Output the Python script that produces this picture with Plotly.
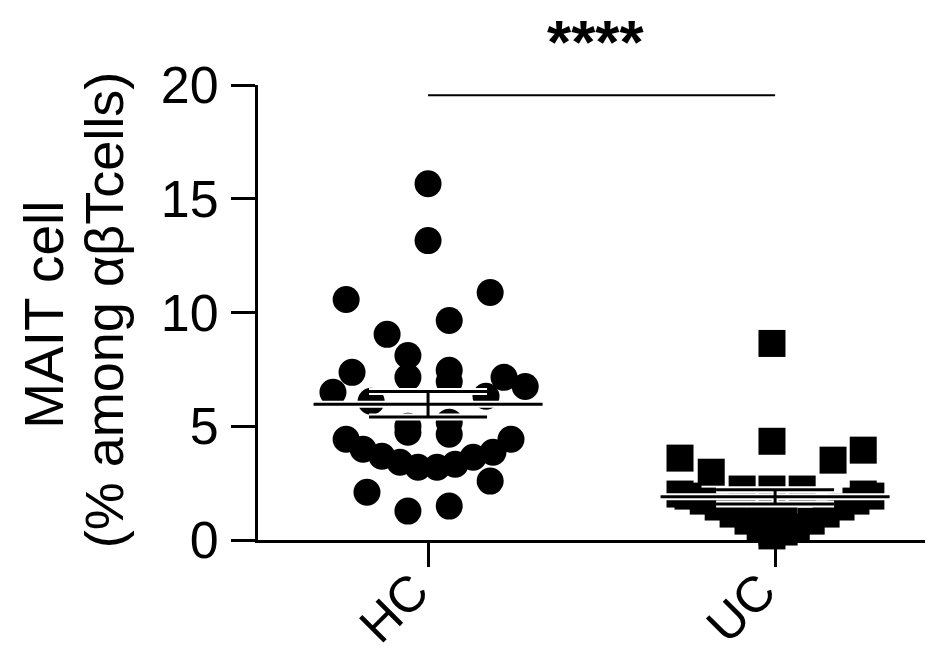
import numpy as np
import plotly.graph_objects as go

categories = ["HC", "UC"]
cat_pos = [1, 2]

hc_values = [15.66, 13.16, 10.57, 10.88, 9.65, 9.04, 8.11, 7.37, 7.46, 7.15, 6.97, 7.15,
             6.75, 6.49, 6.10, 6.32, 5.00, 5.18, 4.65, 4.74, 4.43, 3.99, 3.68, 3.42,
             3.20, 3.20, 3.33, 3.64, 3.86, 4.43, 2.59, 2.10, 1.27, 1.49]
hc_offsets = [0.00, 0.00, -0.236, 0.179, 0.061, -0.118, -0.058, -0.219, 0.061, -0.058, 0.061, 0.219,
              0.280, -0.274, -0.164, 0.167, -0.058, 0.061, 0.061, -0.058, -0.236, -0.187, -0.133, -0.081,
              -0.029, 0.026, 0.078, 0.130, 0.187, 0.239, 0.179, -0.176, -0.058, 0.061]

uc_values = [8.64, 4.34, 3.60, 2.98, 3.51, 3.95, 2.24, 2.24, 2.24, 2.02, 2.02,
             1.93, 1.71, 1.45, 1.14, 0.83, 0.57, 0.35, 0.18,
             0.35, 0.57, 0.83, 1.14, 1.45, 1.71, 1.93, 0.90, 0.70, 0.90, 0.45]
uc_offsets = [-0.009, -0.009, -0.274, -0.184, 0.167, 0.254, -0.095, -0.009, 0.078, -0.274, 0.254,
              -0.251, -0.207, -0.164, -0.121, -0.078, -0.043, -0.009, -0.009,
              0.026, 0.061, 0.104, 0.147, 0.190, 0.233, 0.276, -0.043, -0.009, 0.026, -0.009]

significance = "****"
sig_height = 19.55
y_ticks = [0, 5, 10, 15, 20]
y_title_lines = ["MAIT cell", "(% among αβTcells)"]

FONT = "Arial, Liberation Sans, sans-serif"

# page body has an 8px margin: size the figure so it fits the 933x654 window
W, H = 925, 646
ML, MT, MB = 250, 77, 114
PW = W - ML

fig = go.Figure()

fig.add_trace(go.Scatter(
    x=[cat_pos[0] + o for o in hc_offsets], y=hc_values, mode="markers",
    marker=dict(symbol="circle", size=27, color="black", line=dict(width=0)),
    cliponaxis=False, showlegend=False))
fig.add_trace(go.Scatter(
    x=[cat_pos[1] + o for o in uc_offsets], y=uc_values, mode="markers",
    marker=dict(symbol="square", size=27, color="black", line=dict(width=0)),
    cliponaxis=False, showlegend=False))

# mean and SEM
for pos, vals in zip(cat_pos, [hc_values, uc_values]):
    arr = np.array(vals)
    m = arr.mean()
    sem = arr.std(ddof=1) / np.sqrt(len(arr))
    mw, sw = 0.33, 0.17
    xs = [pos - mw, pos + mw, None, pos - sw, pos + sw, None, pos - sw, pos + sw, None, pos, pos]
    ys = [m, m, None, m + sem, m + sem, None, m - sem, m - sem, None, m - sem, m + sem]
    fig.add_trace(go.Scatter(x=xs, y=ys, mode="lines", line=dict(color="white", width=7),
                             showlegend=False, cliponaxis=False))
    fig.add_trace(go.Scatter(x=xs, y=ys, mode="lines", line=dict(color="black", width=3),
                             showlegend=False, cliponaxis=False))

# significance bar
fig.add_trace(go.Scatter(x=[cat_pos[0], cat_pos[1]], y=[sig_height, sig_height], mode="lines",
                         line=dict(color="black", width=2), showlegend=False, cliponaxis=False))

fig.update_layout(
    width=W, height=H,
    margin=dict(l=ML, r=0, t=MT, b=MB),
    paper_bgcolor="white", plot_bgcolor="white",
    font=dict(family=FONT, color="black"),
    xaxis=dict(range=[0.51, 2.455], tickvals=cat_pos, showticklabels=False,
               showline=True, linecolor="black", linewidth=3, ticks="outside", ticklen=24,
               tickwidth=3, tickcolor="black", showgrid=False, zeroline=False, automargin=False),
    yaxis=dict(range=[0, 20], tickvals=y_ticks, showline=True, linecolor="black", linewidth=3,
               ticks="outside", ticklen=24, tickwidth=3, tickcolor="black", showgrid=False,
               zeroline=False, automargin=False, ticklabelstandoff=2,
               tickfont=dict(family=FONT, size=52, color="black")),
)

# significance stars
fig.add_annotation(x=(cat_pos[0] + cat_pos[1]) / 2, y=1.0, yref="paper", yanchor="middle",
                   text="<b>" + significance + "</b>", showarrow=False, yshift=44, xshift=-6,
                   font=dict(family=FONT, size=62, color="black"))

# category labels (rotated)
for pos, lab in zip(cat_pos, categories):
    fig.add_annotation(x=pos, y=0, yref="paper", xanchor="right", yanchor="top",
                       text=lab, showarrow=False, textangle=-45, xshift=14, yshift=-20,
                       font=dict(family=FONT, size=50, color="black"))

# y-axis title (two lines)
fig.add_annotation(x=-(ML - 36) / PW, xref="paper", xanchor="center", y=0.495, yref="paper",
                   yanchor="middle", text=y_title_lines[0], showarrow=False, textangle=-90,
                   font=dict(family=FONT, size=55, color="black"))
fig.add_annotation(x=-(ML - 96) / PW, xref="paper", xanchor="center", y=0.505, yref="paper",
                   yanchor="middle", text=y_title_lines[1], showarrow=False, textangle=-90,
                   font=dict(family=FONT, size=54, color="black"))

fig.write_html("out.html")
